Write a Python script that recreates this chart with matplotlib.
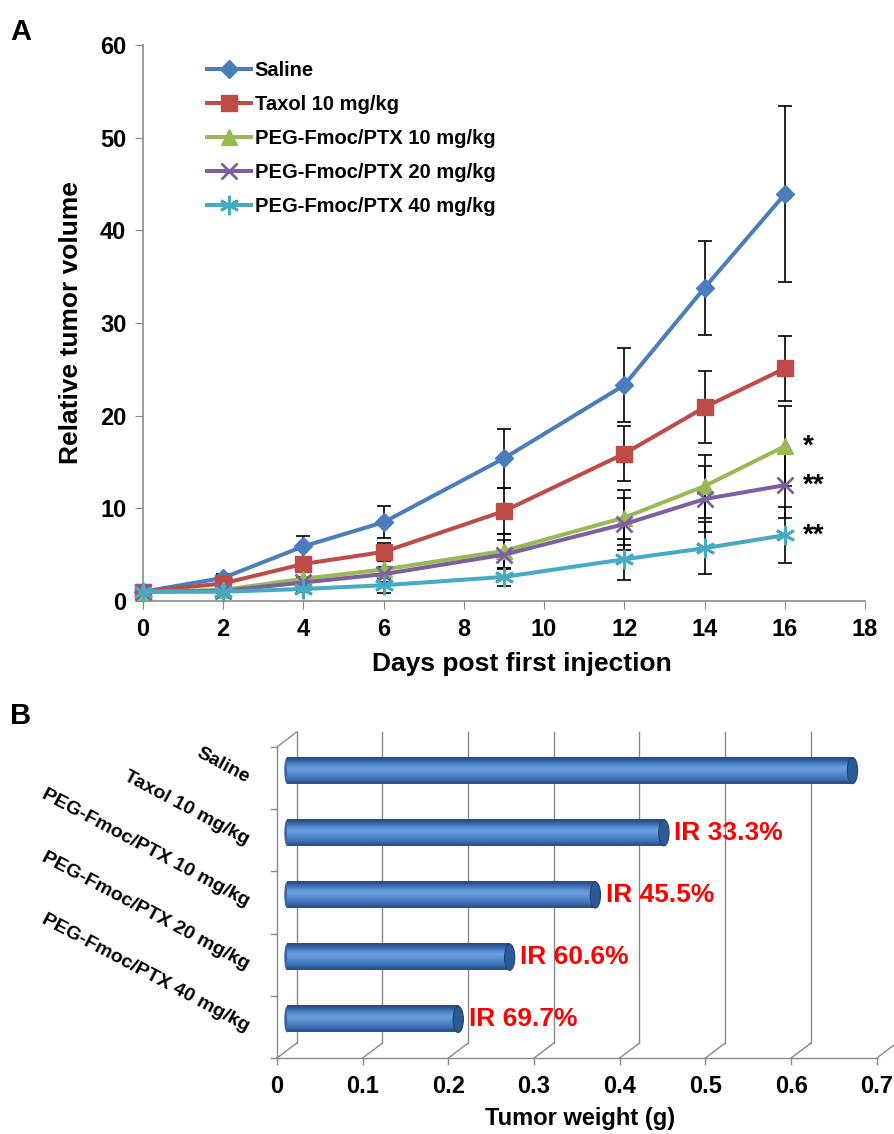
import matplotlib
matplotlib.use("Agg")
import matplotlib.pyplot as plt
import numpy as np
from matplotlib.patches import Ellipse

plt.rcParams['font.family'] = ['Liberation Sans', 'DejaVu Sans']
plt.rcParams['font.weight'] = 'bold'

# ---- panel A data ----
days = [0, 2, 4, 6, 9, 12, 14, 16]
saline = [1.0, 2.5, 5.9, 8.5, 15.4, 23.3, 33.8, 43.9]
saline_err = [0.2, 0.4, 1.1, 1.7, 3.2, 4.0, 5.1, 9.5]
taxol = [1.0, 1.9, 4.0, 5.3, 9.7, 15.9, 20.9, 25.1]
taxol_err = [0.1, 0.3, 0.6, 1.0, 2.5, 3.0, 3.9, 3.5]
peg10 = [1.0, 1.2, 2.4, 3.4, 5.4, 9.0, 12.4, 16.7]
peg10_err = [0.1, 0.2, 0.7, 0.9, 1.8, 3.0, 3.4, 4.3]
peg20 = [1.0, 1.1, 2.0, 2.9, 5.0, 8.3, 11.0, 12.5]
peg20_err = [0.1, 0.2, 0.6, 0.8, 1.6, 2.8, 3.6, 3.5]
peg40 = [1.0, 1.0, 1.3, 1.7, 2.6, 4.5, 5.7, 7.1]
peg40_err = [0.1, 0.1, 0.3, 0.85, 1.0, 2.2, 2.8, 3.0]
series_names = ["Saline", "Taxol 10 mg/kg", "PEG-Fmoc/PTX 10 mg/kg",
                "PEG-Fmoc/PTX 20 mg/kg", "PEG-Fmoc/PTX 40 mg/kg"]
signif = ["", "", "*", "**", "**"]

# ---- panel B data ----
groups = ["Saline", "Taxol 10 mg/kg", "PEG-Fmoc/PTX 10 mg/kg",
          "PEG-Fmoc/PTX 20 mg/kg", "PEG-Fmoc/PTX 40 mg/kg"]
weights = [0.66, 0.44, 0.36, 0.26, 0.20]
ir_labels = ["", "IR 33.3%", "IR 45.5%", "IR 60.6%", "IR 69.7%"]
wticks = [0, 0.1, 0.2, 0.3, 0.4, 0.5, 0.6, 0.7]

fig = plt.figure(figsize=(8.95, 11.34), dpi=100)

# ================= panel A =================
ax = fig.add_axes([143/895, 1-601/1134, 722/895, 556/1134])
colors = ["#4a7ebb", "#be4b48", "#98b954", "#7d60a0", "#46aac5"]
markers = ["D", "s", "^", "x", (6, 2, 0)]
msizes = [9, 12, 11, 12, 14]
ys = [saline, taxol, peg10, peg20, peg40]
errs = [saline_err, taxol_err, peg10_err, peg20_err, peg40_err]

for y, e in zip(ys, errs):
    ax.errorbar(days, y, yerr=e, fmt='none', ecolor='black', elinewidth=1.2,
                capsize=5, capthick=1.2, zorder=2, clip_on=False)
for i, (y, name) in enumerate(zip(ys, series_names)):
    mk = markers[i]
    ax.plot(days, y, color=colors[i], lw=2.9, marker=mk, ms=msizes[i],
            mew=2 if mk == "x" or isinstance(mk, tuple) else 1,
            mec=colors[i], label=name, zorder=3 + i * 0.1, clip_on=False)
    if signif[i]:
        ax.text(days[-1] + 0.45, y[-1], signif[i], fontsize=20, fontweight='bold',
                va='center', ha='left')

ax.set_xlim(0, 18)
ax.set_ylim(0, 60)
ax.set_xticks(range(0, 19, 2))
ax.set_yticks(range(0, 61, 10))
for s in ["top", "right"]:
    ax.spines[s].set_visible(False)
for s in ["left", "bottom"]:
    ax.spines[s].set_color("#8c8c8c")
    ax.spines[s].set_linewidth(1.2)
ax.tick_params(direction='out', length=6, color="#8c8c8c", labelsize=17, pad=6)
for lab in ax.get_xticklabels() + ax.get_yticklabels():
    lab.set_fontweight('bold')
ax.set_xlabel("Days post first injection", fontsize=19, fontweight='bold')
ax.xaxis.set_label_coords(0.525, -0.092)
ax.set_ylabel("Relative tumor volume", fontsize=19, fontweight='bold', labelpad=12)
ax.legend(loc='upper left', bbox_to_anchor=(0.088, 0.972), frameon=False,
          prop={'size': 14.5, 'weight': 'bold'}, labelspacing=0.75,
          handlelength=2.2, handletextpad=0.2, borderaxespad=0, borderpad=0)
fig.text(10/895, 1-32/1134, "A", fontsize=21, fontweight='bold', va='center')

# ================= panel B =================
bx = fig.add_axes([277/895, 1-1058/1134, 617/895, 326/1134])
dx, dy = 0.023, 0.24
n = len(groups)
grid_c = "#8a8a8a"
# back wall grid lines with floor diagonals
for v in wticks:
    bx.plot([v + dx, v + dx], [dy, n + dy], color=grid_c, lw=1, zorder=1, clip_on=False)
    bx.plot([v, v + dx], [0, dy], color=grid_c, lw=1, zorder=1, clip_on=False)
    bx.plot([v, v], [0, -0.1], color=grid_c, lw=1, clip_on=False)
# front floor and left wall
bx.plot([0, wticks[-1]], [0, 0], color=grid_c, lw=1, clip_on=False)
bx.plot([0, 0], [0, n], color=grid_c, lw=1, clip_on=False)
bx.plot([0, dx], [n, n + dy], color=grid_c, lw=1, clip_on=False)
for k in range(n + 1):
    bx.plot([-0.007, 0], [k, k], color=grid_c, lw=1, clip_on=False)

# cylinder bars
grad = np.array([[0.16, 0.31, 0.55], [0.24, 0.43, 0.70], [0.35, 0.56, 0.82],
                 [0.42, 0.62, 0.87], [0.36, 0.57, 0.83], [0.30, 0.50, 0.77],
                 [0.25, 0.44, 0.71], [0.17, 0.32, 0.56]])
grad = grad[:, None, :]
bh = 0.42
for i, (g, w) in enumerate(zip(groups, weights)):
    yc = n - 1 - i + 0.5 + dy / 2
    x0 = dx / 2
    x1 = dx / 2 + w
    bx.imshow(grad, extent=[x0, x1, yc - bh / 2, yc + bh / 2], aspect='auto',
              interpolation='bilinear', zorder=3)
    bx.add_patch(Ellipse((x0, yc), 0.006, bh, facecolor="#3a66a3", edgecolor='none', zorder=2.9))
    bx.add_patch(Ellipse((x1, yc), 0.012, bh, facecolor="#2c5a94", edgecolor="#1f4476",
                         lw=0.8, zorder=3.1))
    if ir_labels[i]:
        bx.text(x1 + 0.012, yc, ir_labels[i], color="#ff0000", fontsize=19,
                fontweight='bold', va='center', ha='left', zorder=4)
    bx.text(-0.034, yc - 0.13, g, rotation=-28, rotation_mode='anchor', ha='right',
            va='center', fontsize=14, fontweight='bold')

bx.set_xlim(0, 0.72)
bx.set_ylim(0, n + dy)
bx.axis('off')
for v in wticks:
    bx.text(v, -0.28, f"{v:g}", ha='center', va='top', fontsize=17, fontweight='bold')
fig.text((277 + 303) / 895, 1 - 1118/1134, "Tumor weight (g)", ha='center', va='center',
         fontsize=17, fontweight='bold')
fig.text(10/895, 1-716/1134, "B", fontsize=21, fontweight='bold', va='center')

fig.savefig("out.png", dpi=100)
